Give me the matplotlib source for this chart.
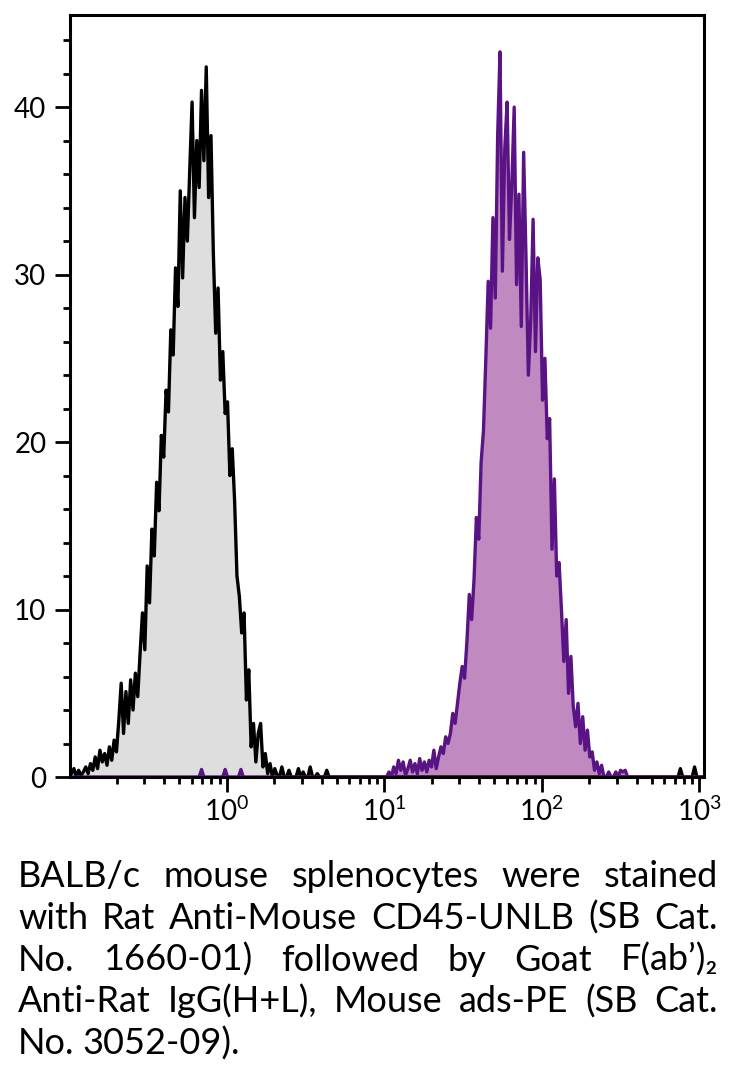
import numpy as np
import matplotlib
matplotlib.use("Agg")
import matplotlib.pyplot as plt
from matplotlib.ticker import LogLocator, MultipleLocator, NullFormatter

plt.rcParams['font.family'] = ['Lato', 'DejaVu Sans']
plt.rcParams['mathtext.default'] = 'regular'

# histogram channels: log10 position of first bin and bin width (decades)
black_start, purple_start, bin_w = -1.0, 0.85, 0.015

# isotype / unstained control (black outline, grey fill)
black_counts = [
    0.6, 0.2, 0.5, 0.0, 0.4, 0.1, 0.3, 0.6, 0.2, 0.8, 0.4,
    1.2, 0.5, 1.6, 0.9, 1.4, 0.7, 1.8, 1.0, 2.2, 1.5,
    3.4, 5.6, 2.6, 5.1, 3.2, 5.8, 4.0, 6.2, 4.8, 7.4,
    9.8, 7.6, 12.6, 10.4, 14.8, 13.2, 17.6, 15.9, 20.4, 19.1,
    23.1, 21.8, 26.7, 25.2, 30.4, 28.1, 35.0, 29.8, 34.6, 32.0,
    36.2, 40.3, 33.4, 38.0, 35.2, 41.0, 36.8, 42.4, 34.6, 38.3,
    31.3, 26.5, 29.2, 23.7, 25.4, 21.7, 22.4, 18.0, 19.6, 16.5,
    12.0, 10.8, 8.6, 9.8, 4.6, 6.4, 1.8, 3.2, 0.9, 2.6,
    3.2, 0.6, 1.4, 0.2, 0.8, 0.0, 0.5, 0.1, 0.0, 0.6,
    0.0, 0.0, 0.4, 0.0, 0.0, 0.0, 0.5, 0.0, 0.3, 0.0,
    0.0, 0.6, 0.0, 0.0, 0.2, 0.0, 0.0, 0.0, 0.4, 0.0,
]

# CD45 stained (purple)
purple_counts = [
    0.0, 0.0, 0.0, 0.0, 0.0, 0.0, 0.0, 0.0, 0.0, 0.0, 0.0, 0.0,
    0.3, 0.0, 0.6, 0.2, 1.0, 0.4, 0.9, 0.1, 0.5, 1.0, 0.3, 0.8,
    0.2, 1.1, 0.4, 0.9, 0.3, 1.0, 0.6, 1.6, 0.5, 1.2, 1.8, 1.4,
    2.4, 2.0, 2.6, 3.8, 3.2, 4.4, 5.6, 6.6, 5.9, 8.1, 10.9, 9.4,
    11.8, 15.5, 14.2, 18.8, 20.7, 25.0, 29.6, 26.8, 33.4, 28.6, 38.3, 43.3,
    30.2, 37.5, 40.3, 32.1, 35.4, 40.0, 29.4, 34.8, 26.9, 37.3, 31.0, 24.0,
    27.3, 33.3, 25.4, 31.0, 29.7, 22.5, 25.0, 20.2, 21.4, 13.6, 17.8, 12.0,
    12.8, 10.0, 6.9, 9.4, 5.0, 7.2, 4.2, 3.0, 4.4, 2.0, 3.6, 1.6,
    2.8, 1.2, 1.5, 0.4, 0.9, 0.2, 0.7, 0.0, 0.0, 0.3, 0.0, 0.0,
    0.3, 0.0, 0.4, 0.3, 0.4, 0.0, 0.0, 0.0, 0.0, 0.0, 0.0, 0.0,
]

# isolated single events far from each population (log10 position, height)
black_stray_pos = [2.88, 2.97]
black_stray_val = [0.5, 0.6]
purple_stray_pos = [-0.16, -0.01, 0.09]
purple_stray_val = [0.45, 0.45, 0.45]

caption_lines = [
    "BALB/c mouse splenocytes were stained",
    "with Rat Anti-Mouse CD45-UNLB (SB Cat.",
    "No. 1660-01) followed by Goat F(ab\u2019)\u2082",
    "Anti-Rat IgG(H+L), Mouse ads-PE (SB Cat.",
    "No. 3052-09).",
]


def build_curve(start, counts, stray_pos, stray_val):
    logx = start + bin_w * np.arange(len(counts))
    xs = list(logx)
    ys = list(counts)
    # pad with zero so the outline runs along the baseline
    xs = [-1.0] + xs + [3.05]
    ys = [0.0] + ys + [0.0]
    for p, v in zip(stray_pos, stray_val):
        xs += [p - bin_w, p, p + bin_w]
        ys += [0.0, v, 0.0]
    order = np.argsort(xs)
    xs = np.array(xs)[order]
    ys = np.array(ys)[order]
    return 10 ** xs, ys


fig = plt.figure(figsize=(7.32, 10.82), dpi=100)
ax = fig.add_axes([70 / 732, 1 - 777 / 1082, (704 - 70) / 732, (777 - 15) / 1082])

bx, by = build_curve(black_start, black_counts, black_stray_pos, black_stray_val)
px, py = build_curve(purple_start, purple_counts, purple_stray_pos, purple_stray_val)

ax.fill_between(bx, by, color='#dedede', lw=0)
ax.plot(bx, by, color='black', lw=2.4)
ax.fill_between(px, py, color='#c08ac1', lw=0)
ax.plot(px, py, color='#5a1384', lw=2.4)

ax.set_xscale('log')
ax.set_xlim(10 ** -0.995, 10 ** 3.03)
ax.set_ylim(0, 45.5)

ax.xaxis.set_major_locator(LogLocator(base=10, numticks=10))
ax.xaxis.set_minor_locator(LogLocator(base=10, subs=np.arange(2, 10), numticks=20))
ax.xaxis.set_minor_formatter(NullFormatter())
ax.yaxis.set_major_locator(MultipleLocator(10))
ax.yaxis.set_minor_locator(MultipleLocator(2))

for s in ax.spines.values():
    s.set_linewidth(2.2)
ax.tick_params(which='major', length=11, width=2, labelsize=20, pad=3)
ax.tick_params(which='minor', length=5, width=2)
ax.tick_params(axis='y', which='major', pad=6)

# justified caption under the plot
renderer = fig.canvas.get_renderer()
left_px, right_px = 18, 718
base_y = 887
line_gap = 41.8
for li, line in enumerate(caption_lines):
    words = line.split(' ')
    y = 1 - (base_y + li * line_gap) / 1082
    objs = [fig.text(0, y, w, fontsize=26, va='baseline', ha='left') for w in words]
    widths = [o.get_window_extent(renderer).width for o in objs]
    if li < len(caption_lines) - 1 and len(words) > 1:
        gap = (right_px - left_px - sum(widths)) / (len(words) - 1)
    else:
        gap = objs[0].get_fontsize() * 0.3
    x = left_px
    for o, w in zip(objs, widths):
        o.set_x(x / 732)
        x += w + gap

fig.savefig('out.png', dpi=100)
